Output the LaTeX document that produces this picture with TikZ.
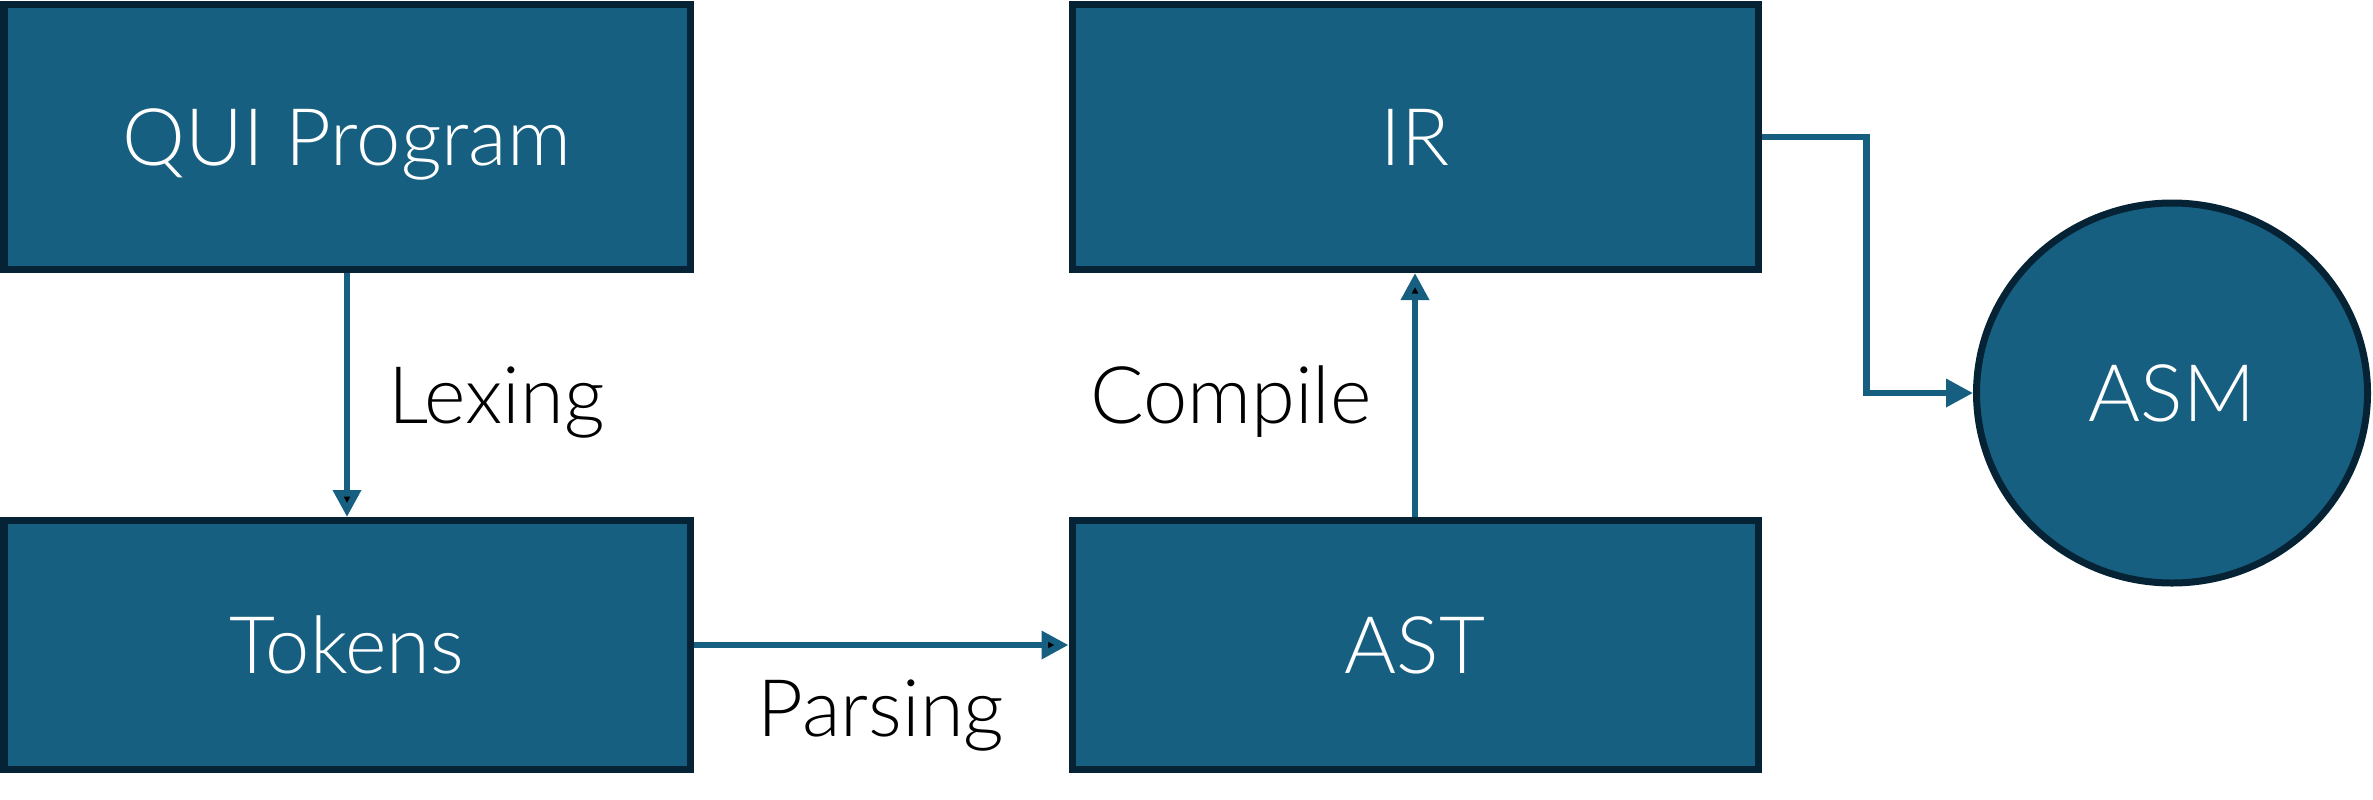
\documentclass[tikz,border=0pt]{standalone}
\usepackage{fontspec}
\setmainfont{Lato}[UprightFont={* Light}]
\usetikzlibrary{positioning,arrows.meta,shapes.geometric}
\definecolor{boxfill}{HTML}{175F80}
\definecolor{boxline}{HTML}{052334}

\tikzset{
  stage/.style={draw=boxline, fill=boxfill, line width=0.07cm, text=white,
    minimum width=6.86cm, text height=0.57cm, text depth=0pt, inner sep=0pt},
  target/.style={ellipse, draw=boxline, fill=boxfill, line width=0.07cm, text=white,
    minimum width=3.91cm, minimum height=3.80cm, text height=0.57cm, text depth=0pt, inner sep=0pt},
  conn/.style={draw=boxfill, line width=0.065cm, -{Triangle[length=0.27cm,width=0.27cm]}},
  every node/.append style={font=\fontsize{22.6}{27}\selectfont, text height=0.57cm, text depth=0pt, inner sep=0pt}
}

\begin{document}
\begin{tikzpicture}
    \useasboundingbox (0,0) rectangle (23.73,-7.99);
    \node [stage, minimum height=2.65cm] (qui) at (3.47,-1.37) {QUI Program};
    \node [stage, minimum height=2.49cm] [below=2.44cm of qui] (tokens) {Tokens};
    \node [stage, minimum height=2.65cm] [right=3.75cm of qui] (ir) {IR};
    \node [stage, minimum height=2.49cm] [below=2.44cm of ir] (ast) {AST};
    \node [target] (asm) at (21.72,-3.93) {ASM};
      \path[conn]
      (qui) edge node [right=0.38cm] {Lexing} (tokens)
      (tokens) edge node [below=0.31cm] {Parsing} (ast)
      (ast) edge node [left=0.40cm] {Compile} (ir)
      ;
      \draw[conn] (ir.east) -- ++(1.05,0) |- (asm.west);
  \end{tikzpicture}
\end{document}
